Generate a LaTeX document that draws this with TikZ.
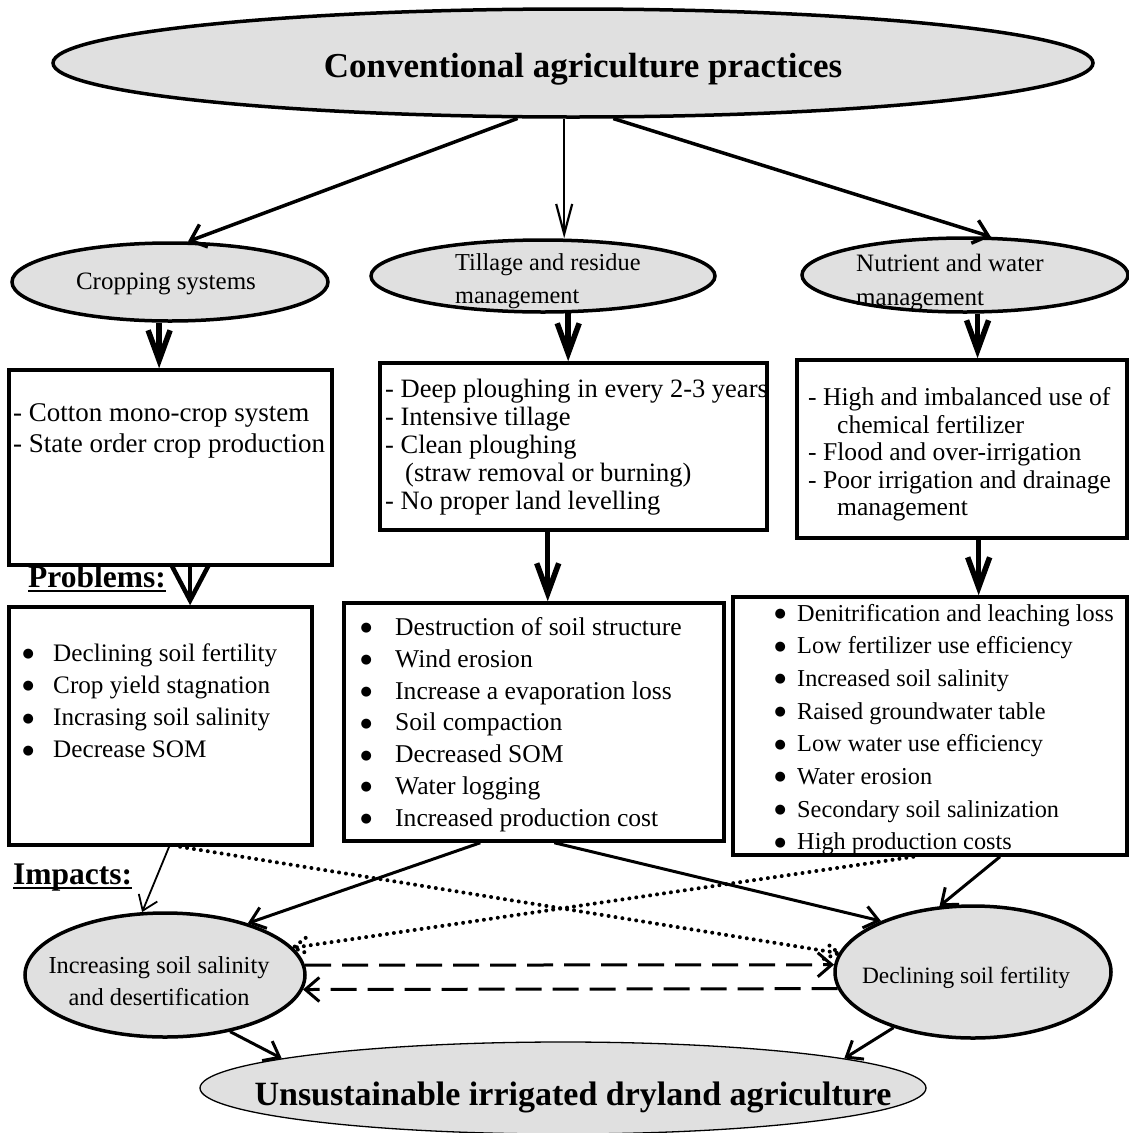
\documentclass[tikz,border=0pt]{standalone}
\usepackage{fontspec}
\setmainfont{Liberation Serif}
\newfontfamily\dejavu{DejaVu Sans}
\usetikzlibrary{arrows.meta,shapes.geometric,calc}
\definecolor{efill}{RGB}{224,224,224}
\newcommand{\fsz}[2]{\fontsize{#1pt}{#2pt}\selectfont}
\newcommand{\myul}[1]{\setbox0\hbox{#1}\rlap{\rule[-5pt]{\wd0}{2.5pt}}\box0}
\newcommand{\bul}[1]{\makebox[#1pt][l]{\raisebox{3.6pt}{{\fontsize{13pt}{13pt}\dejavu ●}}}}
\begin{document}
\begin{tikzpicture}[x=1pt,y=-1pt,
  ell/.style={ellipse, draw, line width=3.5pt, fill=efill, inner sep=0pt},
  boxn/.style={rectangle, draw, line width=3.5pt, fill=white, inner sep=0pt},
  txt/.style={inner sep=0pt, anchor=base west},
  arrtop/.style={line width=3.5pt, -{Straight Barb[length=14pt,width=24pt]}},
  arrmid/.style={line width=2.2pt, -{Straight Barb[length=30pt,width=16pt]}},
  bigarr/.style={line width=5.5pt, -{Straight Barb[length=30pt,width=22pt]}},
  bigarrw/.style={line width=4.5pt, -{Straight Barb[length=36pt,width=38pt]}},
  thinarr/.style={line width=1.8pt, -{Straight Barb[length=14pt,width=20pt]}},
  medarr/.style={line width=3pt, -{Straight Barb[length=14pt,width=22pt]}},
  dotl/.style={line width=4pt, line cap=round, dash pattern=on 0pt off 7pt},
  dasharr/.style={line width=3pt, dash pattern=on 26pt off 11pt, -{Straight Barb[length=14pt,width=24pt]}}
]
\useasboundingbox (0,0) rectangle (1129,1133);

% top ellipse
\node[ell, minimum width=1040pt, minimum height=108pt] (T) at (573,63) {};
\node[inner sep=0pt, anchor=base, font=\fsz{35}{40}\bfseries] (Tt) at (583,77) {Conventional agriculture practices};

% second level ellipses
\node[ell, minimum width=316pt, minimum height=78pt] (C) at (170,282) {};
\node[inner sep=0pt, anchor=base, font=\fsz{25}{30}] (Ct) at (166,289) {Cropping systems};

\node[ell, minimum width=344pt, minimum height=72pt] (Ti) at (543,276) {};
\node[txt, font=\fsz{24.3}{33}] (Tit) at (455,270) {\begin{tabular}[t]{@{}l@{}}Tillage and residue\\management\end{tabular}};

\node[ell, minimum width=326pt, minimum height=74pt] (N) at (965,275) {};
\node[txt, font=\fsz{25}{34}] (Nt) at (856,271) {\begin{tabular}[t]{@{}l@{}}Nutrient and water\\management\end{tabular}};

% practice boxes
\node[boxn, minimum width=323pt, minimum height=195pt] (cb) at (170.5,467.5) {};
\node[txt, font=\fsz{27}{31}] (cbt) at (13,421) {\begin{tabular}[t]{@{}l@{}}- Cotton mono-crop system\\- State order crop production\end{tabular}};

\node[boxn, minimum width=387pt, minimum height=167pt] (tb) at (573.5,446.5) {};
\node[txt, font=\fsz{26.5}{28}] (tbt) at (385,397) {\begin{tabular}[t]{@{}l@{}}- Deep ploughing in every 2-3 years\\- Intensive tillage\\- Clean ploughing\\\hspace{20pt}(straw removal or burning)\\- No proper land levelling\end{tabular}};

\node[boxn, minimum width=330pt, minimum height=178pt] (nb) at (962,449) {};
\node[txt, font=\fsz{25.6}{27.5}] (nbt) at (808,405.5) {\begin{tabular}[t]{@{}l@{}}- High and imbalanced use of\\\hspace{29pt}chemical fertilizer\\- Flood and over-irrigation\\- Poor irrigation and drainage\\\hspace{29pt}management\end{tabular}};

% labels
\node[txt, font=\fsz{31.5}{36}\bfseries] (prob) at (28,587) {\myul{Problems:}};
\node[txt, font=\fsz{31.5}{36}\bfseries] (imp) at (13,884) {\myul{Impacts:}};

% problem boxes
\node[boxn, minimum width=303pt, minimum height=238pt] (cpb) at (160.5,726) {};
\node[txt, font=\fsz{25.2}{32.3}] (cpbt) at (22.5,661) {\begin{tabular}[t]{@{}l@{}}\bul{30.5}Declining soil fertility\\\bul{30.5}Crop yield stagnation\\\bul{30.5}Incrasing soil salinity\\\bul{30.5}Decrease SOM\end{tabular}};

\node[boxn, minimum width=380pt, minimum height=238pt] (tpb) at (534,722) {};
\node[txt, font=\fsz{25.6}{31.8}] (tpbt) at (360.5,635.5) {\begin{tabular}[t]{@{}l@{}}\bul{34.5}Destruction of soil structure\\\bul{34.5}Wind erosion\\\bul{34.5}Increase a evaporation loss\\\bul{34.5}Soil compaction\\\bul{34.5}Decreased SOM\\\bul{34.5}Water logging\\\bul{34.5}Increased production cost\end{tabular}};

\node[boxn, minimum width=394pt, minimum height=258pt] (npb) at (930,726) {};
\node[txt, font=\fsz{24.3}{32.7}] (npbt) at (774.5,621) {\begin{tabular}[t]{@{}l@{}}\bul{22.5}Denitrification and leaching loss\\\bul{22.5}Low fertilizer use efficiency\\\bul{22.5}Increased soil salinity\\\bul{22.5}Raised groundwater table\\\bul{22.5}Low water use efficiency\\\bul{22.5}Water erosion\\\bul{22.5}Secondary soil salinization\\\bul{22.5}High production costs\end{tabular}};

% impact ellipses
\node[ell, minimum width=280pt, minimum height=124pt] (L) at (165,975) {};
\node[inner sep=0pt, anchor=base, font=\fsz{24.4}{32}] (Lt) at (159,973) {\begin{tabular}[t]{@{}c@{}}Increasing soil salinity\\and desertification\end{tabular}};

\node[ell, minimum width=276pt, minimum height=132pt] (R) at (973,972) {};
\node[inner sep=0pt, anchor=base, font=\fsz{23.4}{30}] (Rt) at (966,983) {Declining soil fertility};

\node[ell, line width=1.3pt, minimum width=726pt, minimum height=92pt] (B) at (563,1088) {};
\node[inner sep=0pt, anchor=base, font=\fsz{34}{40}\bfseries] (Bt) at (573,1105) {Unsustainable irrigated dryland agriculture};

% top connectors
\draw[arrtop] (T.225) -- (C.66);
\draw[arrmid] (T.261) -- (T.261 |- Ti.north);
\draw[arrtop] (T.-54) -- (N.56.7);

% thick connectors
\draw[bigarr] (C.255) -- (C.255 |- cb.north);
\draw[bigarr] (Ti.-56) -- (Ti.-56 |- tb.north);
\draw[bigarr] (N.-72) -- (N.-72 |- nb.north);
\coordinate (a1) at ($(cb.south west)!0.56!(cb.south east)$);
\draw[bigarrw] (a1) -- (a1 |- cpb.north);
\coordinate (a2) at ($(tb.south west)!0.434!(tb.south east)$);
\draw[bigarr] (a2) -- (a2 |- tpb.north);
\coordinate (a3) at ($(nb.south west)!0.55!(nb.south east)$);
\draw[bigarr] (a3) -- (a3 |- npb.north);

% impact connectors
\coordinate (c1) at ($(cpb.south west)!0.528!(cpb.south east)$);
\draw[thinarr] (c1) -- (L.110);
\coordinate (c2) at ($(tpb.south west)!0.36!(tpb.south east)$);
\draw[medarr] (c2) -- (L.32.5);
\coordinate (c3) at ($(tpb.south west)!0.553!(tpb.south east)$);
\draw[medarr] (c3) -- (R.151);
\coordinate (c4) at ($(npb.south west)!0.676!(npb.south east)$);
\draw[medarr] (c4) -- (R.117);

\coordinate (c5) at ($(cpb.south west)!0.564!(cpb.south east)$);
\draw[dotl] (c5) -- (R.172);
\draw[dotl] ($(R.172)!16pt!30:(c5)$) -- (R.172) -- ($(R.172)!16pt!-30:(c5)$);
\coordinate (c6) at ($(npb.south west)!0.458!(npb.south east)$);
\draw[dotl] (c6) -- (L.12);
\draw[dotl] ($(L.12)!16pt!30:(c6)$) -- (L.12) -- ($(L.12)!16pt!-30:(c6)$);

\draw[dasharr] (L.4) -- (R.177);
\draw[dasharr] (R.187.5) -- (L.-6);

\draw[medarr] (L.-41.7) -- (B.174);
\draw[medarr] (R.215.5) -- (B.6);
\end{tikzpicture}
\end{document}
